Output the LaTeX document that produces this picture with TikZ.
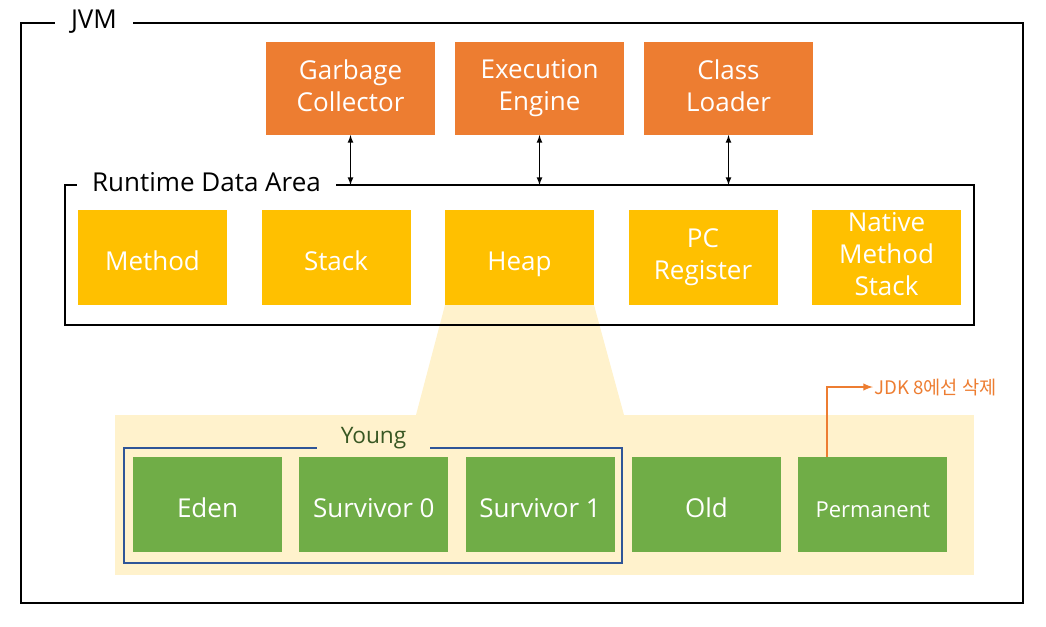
\documentclass[tikz,border=0pt]{standalone}
\usepackage{fontspec}
\setmainfont{Open Sans}
\newfontfamily\kofont{Noto Sans CJK KR}
\usepackage{tikz}
\usetikzlibrary{chains,positioning,arrows}
\definecolor{myorange}{RGB}{237,125,49}
\definecolor{myyellow}{RGB}{255,192,0}
\definecolor{mygreen}{RGB}{112,173,71}
\definecolor{mycream}{RGB}{255,242,204}
\definecolor{myblue}{RGB}{47,85,151}
\definecolor{mydarkgreen}{RGB}{56,87,35}
\newcommand\boxstrut{\rule[-5pt]{0pt}{30pt}}
\pgfdeclarelayer{background}
\pgfsetlayers{background,main}

\begin{document}
\begin{tikzpicture}[x=0.75pt,y=-0.75pt,>=latex,
	every node/.style={outer sep=0pt,inner sep=0pt},
	boxnode/.style={text=white,align=center,font=\fontsize{19.5}{24}\selectfont,execute at begin node=\boxstrut,execute at end node=\boxstrut},
	enginenode/.style={boxnode,fill=myorange,minimum width=126.75pt,minimum height=69.75pt},
	areanode/.style={boxnode,fill=myyellow,minimum width=111.75pt,minimum height=71.25pt},
	gennode/.style={boxnode,fill=mygreen,minimum width=111.75pt,minimum height=71.25pt},
	framenode/.style={draw,line width=1.5pt},
	framelabel/.style={fill=white,font=\fontsize{19.5}{23}\selectfont},
	]
	\useasboundingbox (0,0) rectangle (1046,626);
	
	% the engines
	\begin{scope}[shift={(350.5,88.5)},start chain=going right,node distance=15pt]
	\foreach \n/\txt in {gc/{Garbage\\Collector},ee/{Execution\\Engine},cl/{Class\\Loader}}
	\node[enginenode,on chain] (\n) {\txt};
	\end{scope}
	
	% runtime data areas
	\begin{scope}[shift={(152.5,257.5)},start chain=going right,node distance=25.875pt]
	\foreach \n/\txt in {method/Method,stack/Stack,heap/Heap,pc/{PC\\Register},nms/{Native\\Method\\Stack}}
	\node[areanode,on chain] (\n) {\txt};
	\end{scope}
	
	% heap generations
	\begin{scope}[shift={(207.5,504.5)},start chain=going right,node distance=13pt]
	\foreach \n/\txt in {eden/Eden,s0/{Survivor 0},s1/{Survivor 1},old/Old}
	\node[gennode,on chain] (\n) {\txt};
	\node[gennode,on chain,font=\fontsize{16.5}{20}\selectfont] (perm) {Permanent};
	\end{scope}
	
	% heap zoom
	\begin{pgfonlayer}{background}
	\node[fill=mycream,minimum width=644.25pt,minimum height=120pt] (heaparea) at (544.5,495) {};
	\fill[mycream] (heap.south west) -- (heap.south east) -- (624,415) -- (416,415) -- cycle;
	\end{pgfonlayer}
	
	% frames
	\node[framenode,minimum width=751.5pt,minimum height=435pt] (jvm) at (522,313) {};
	\node[framenode,minimum width=681.75pt,minimum height=105pt] (rda) at (519.5,255) {};
	\node[framelabel,minimum width=58.5pt] (jvmlabel) at (94,21.5) {JVM};
	\node[framelabel,minimum width=194pt] (rdalabel) at (206.5,182.5) {Runtime Data Area};
	
	\node[draw=myblue,line width=1.5pt,minimum width=373.5pt,minimum height=86.25pt] (young) at (373,505.5) {};
	\node[fill=mycream,text=mydarkgreen,minimum width=85pt,minimum height=18pt,font=\fontsize{17}{20}\selectfont] (younglabel) at (373.5,438) {Young};
	
	% engine edges
	\foreach \n in {gc,ee,cl}
	\draw[<->,line width=1pt] (\n.south) -- (\n.south |- rda.north);
	
	% removed in JDK 8
	\node[text=myorange,anchor=west,inner sep=1pt,font=\kofont\fontsize{14}{16}\selectfont] (jdk) at (873,387) {JDK 8에선 삭제};
	\draw[->,myorange,line width=1.5pt] ([xshift=21.75pt]perm.north west) |- (jdk);
	
\end{tikzpicture}
\end{document}
